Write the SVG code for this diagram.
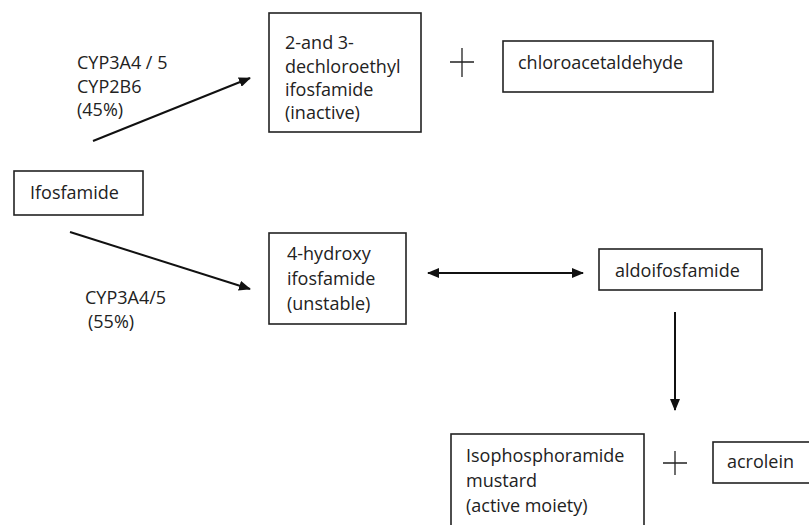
<svg xmlns="http://www.w3.org/2000/svg" width="809" height="525" viewBox="0 0 809 525">
<style>
.box{fill:#fff;stroke:#222;stroke-width:1.6}
text{font-family:"Open Sans","Liberation Sans",sans-serif;font-size:18px;fill:#222}
.ln{stroke:#111;stroke-width:2;fill:none}
.pl{stroke:#222;stroke-width:1.3;fill:none}
</style>
<defs>
<marker id="ah" markerWidth="12" markerHeight="10" refX="11" refY="5" orient="auto-start-reverse" markerUnits="userSpaceOnUse">
<path d="M0,0 L12,5 L0,10 Z" fill="#111"/>
</marker>
</defs>
<rect width="809" height="525" fill="#fff"/>
<g id="connectors">
<line class="ln" x1="93" y1="141" x2="250" y2="78" marker-end="url(#ah)"/>
<line class="ln" x1="70" y1="232" x2="250" y2="289" marker-end="url(#ah)"/>
<line class="ln" x1="428" y1="273" x2="583" y2="273" marker-start="url(#ah)" marker-end="url(#ah)"/>
<line class="ln" x1="675" y1="312" x2="675" y2="410" marker-end="url(#ah)"/>
</g>
<g id="label-top">
<text x="77" y="69">CYP3A4 / 5</text>
<text x="77" y="93">CYP2B6</text>
<text x="77" y="116">(45%)</text>
</g>
<g id="label-bottom">
<text x="85" y="304">CYP3A4/5</text>
<text x="88" y="328">(55%)</text>
</g>
<g id="dechloroethyl">
<rect class="box" x="269" y="13" width="152" height="119"/>
<text x="285" y="49">2-and 3-</text>
<text x="285" y="73">dechloroethyl</text>
<text x="285" y="96">ifosfamide</text>
<text x="285" y="119">(inactive)</text>
</g>
<g id="plus1">
<path class="pl" d="M450,62 H474 M462,48 V77"/>
</g>
<g id="chloroacetaldehyde">
<rect class="box" x="503" y="41" width="210" height="51"/>
<text x="518" y="69">chloroacetaldehyde</text>
</g>
<g id="ifosfamide">
<rect class="box" x="14" y="171" width="129" height="44"/>
<text x="30" y="199">Ifosfamide</text>
</g>
<g id="hydroxy">
<rect class="box" x="269" y="233" width="137" height="91"/>
<text x="287" y="260">4-hydroxy</text>
<text x="287" y="285">ifosfamide</text>
<text x="287" y="310">(unstable)</text>
</g>
<g id="aldoifosfamide">
<rect class="box" x="599" y="249" width="163" height="41"/>
<text x="615" y="277">aldoifosfamide</text>
</g>
<g id="mustard">
<rect class="box" x="451" y="434" width="193" height="100"/>
<text x="466" y="462">Isophosphoramide</text>
<text x="466" y="487">mustard</text>
<text x="466" y="512">(active moiety)</text>
</g>
<g id="plus2">
<path class="pl" d="M663,463 H687 M675,451 V475"/>
</g>
<g id="acrolein">
<rect class="box" x="713" y="442" width="110" height="41"/>
<text x="727" y="468">acrolein</text>
</g>
</svg>
